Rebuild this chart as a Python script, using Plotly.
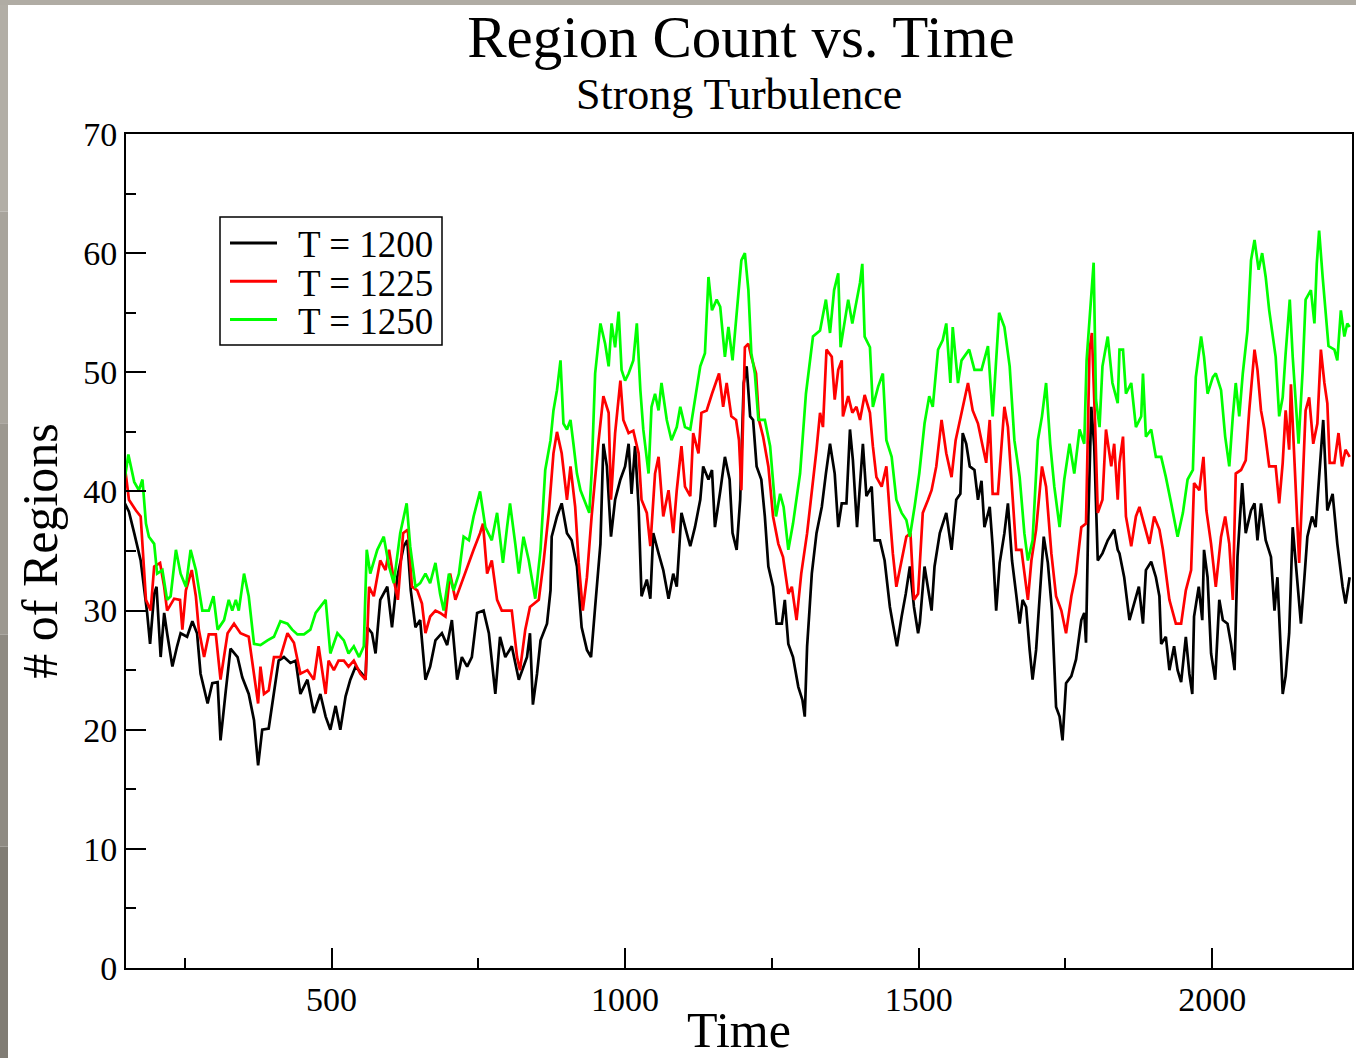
import plotly.graph_objects as go

# ---------------- data ----------------
series_names = ["T = 1200", "T = 1225", "T = 1250"]
series_colors = ["#000000", "#ff0000", "#00ff00"]

time_1200 = [148, 155, 164, 175, 186, 191, 198, 202, 209, 215, 220, 229, 237, 243, 254, 263, 271, 277, 289, 297,
             306, 311, 320, 328, 340, 348, 359, 368, 375, 382, 393, 402, 410, 419, 430, 439, 447, 459, 470,
             481, 490, 498, 507, 515, 524, 532, 541, 552, 558, 561, 569, 575, 583, 595, 603, 612, 623, 629, 635,
             643, 651, 660, 668, 677, 688, 697, 705, 714, 722, 731, 739, 748, 759, 768, 779, 787, 796, 807, 819,
             833, 838, 843, 850, 856, 867, 873, 875, 884, 892, 901, 909, 918, 926, 935, 942, 949, 958, 963, 969,
             976, 983, 992, 1000, 1006, 1011, 1017, 1023, 1028, 1037, 1043, 1048, 1057, 1065, 1074, 1082, 1088,
             1096, 1105, 1111, 1119, 1128, 1133, 1142, 1148, 1153,
             1162, 1170, 1178, 1183, 1190, 1196, 1202, 1207, 1213, 1218, 1224, 1232, 1238, 1244, 1252, 1258, 1267,
             1272, 1278, 1286, 1295, 1302, 1306, 1310, 1314, 1318, 1326, 1335, 1342, 1349, 1357, 1363, 1369, 1377,
             1383, 1388, 1395, 1405, 1411, 1420, 1425, 1434, 1442, 1451, 1456, 1463, 1471, 1478, 1485, 1492, 1499,
             1502, 1510, 1522, 1527, 1536, 1547, 1556, 1564, 1571, 1575, 1581, 1587, 1595, 1601, 1607, 1612, 1621,
             1626, 1632, 1638, 1646, 1652, 1659, 1666, 1672, 1677, 1683, 1689, 1694, 1700, 1706, 1713, 1720, 1727,
             1734, 1740, 1745, 1751, 1760, 1768, 1777, 1782, 1785, 1789, 1794, 1799, 1805, 1813, 1822, 1833, 1839,
             1842, 1850, 1859, 1867, 1875, 1882, 1887, 1896, 1904, 1910, 1913, 1921, 1927, 1935, 1941, 1947, 1955,
             1961, 1966, 1969, 1977, 1983, 1986, 1992, 1998, 2005, 2012, 2018, 2026, 2032, 2038, 2043, 2051, 2057,
             2066, 2072, 2077, 2083, 2091, 2100, 2106, 2111, 2120, 2125, 2131, 2137, 2142, 2151, 2157, 2162, 2170,
             2176, 2182, 2189, 2196, 2205, 2213, 2222, 2227, 2234]
count_1200 = [39.0, 38.3, 36.5, 34.2, 29.8, 27.2, 31.4, 32.0, 26.1, 29.8, 28.1, 25.3, 27.0, 28.1, 27.8, 29.1, 28.1, 24.7, 22.2, 23.9,
              24.0, 19.1, 23.3, 26.8, 26.1, 24.4, 23.0, 20.8, 17.0, 20.0, 20.1, 23.0, 25.8, 26.1, 25.6, 25.8, 23.0, 24.2, 21.4,
              23.0, 21.1, 20.0, 22.0, 20.0, 22.8, 24.2, 25.3, 24.7, 24.2, 28.6, 28.1, 26.4, 30.9, 32.0, 28.6, 32.8, 35.4, 35.9, 31.7,
              28.6, 29.2, 24.2, 25.3, 27.5, 28.1, 27.1, 29.2, 24.2, 26.1, 25.3, 26.1, 29.8, 30.0, 28.1, 23.0, 27.8, 26.1, 27.0, 24.2,
              26.1, 28.1, 22.1, 24.7, 27.5, 28.9, 31.7, 36.2, 37.9, 39.0, 36.5, 35.9, 33.7, 28.6, 26.7, 26.1, 30.3, 35.6, 44.0, 42.1,
              36.2, 39.3, 41.0, 42.1, 44.0, 39.8, 43.8, 38.7, 31.2, 32.6, 31.0, 36.5, 34.8, 33.4, 31.0, 33.1, 32.0,
              38.2, 36.5, 35.4, 37.0, 39.3, 42.1, 41.0, 41.8, 37.0,
              40.0, 42.9, 41.0, 36.5, 35.1, 39.3, 49.1, 50.5, 46.3, 46.0, 42.1, 41.0, 37.9, 33.7, 32.0, 28.9, 28.9,
              30.9, 27.2, 26.1, 23.6, 22.5, 21.1, 27.0, 30.0, 33.1, 36.5, 38.7, 41.5, 44.0, 41.5, 37.0, 39.0, 39.0,
              45.2, 42.6, 37.0, 44.0, 39.6, 40.4, 35.9, 35.9, 34.2, 30.3, 28.9, 27.0, 29.5, 31.4, 33.7, 30.3, 28.1,
              29.0, 33.7, 30.0, 33.7, 36.5, 38.2, 35.1, 39.3, 39.8, 44.9, 44.0, 42.1, 41.8, 39.3, 40.9, 37.0, 38.7,
              35.4, 30.0, 34.0, 36.5, 39.0, 34.2, 31.4, 28.9, 30.9, 30.3, 26.7, 24.2, 26.7, 31.4, 36.2, 34.0, 30.0,
              21.9, 21.1, 19.1, 23.9, 24.5, 25.9, 29.2, 29.8, 27.3, 37.9, 47.1, 43.8, 34.2, 34.8, 35.9, 36.8, 35.1,
              34.8, 32.8, 29.2, 30.6, 32.0, 28.9, 33.4, 34.1, 32.8, 31.2, 27.2, 27.8, 25.0, 27.0, 25.0, 24.0, 27.8,
              24.7, 23.0, 29.5, 32.0, 29.2, 35.1, 32.8, 26.4, 24.2, 30.9, 29.2, 28.9, 27.2, 25.0, 34.5, 40.7, 36.5,
              38.4, 39.0, 35.9, 39.0, 35.9, 34.5, 30.0, 32.8, 23.0, 24.5, 28.1, 37.0, 34.0, 28.9, 32.8, 36.2, 37.9,
              37.0, 41.2, 46.0, 38.4, 39.8, 35.6, 32.0, 30.6, 32.8]

time_1225 = [148, 155, 167, 175, 184, 192, 198, 208, 215, 220, 232, 242, 246, 252, 262, 269, 274, 283, 291, 303,
             311, 323, 334, 345, 359, 368, 375, 379, 385, 393, 402, 413, 425, 436, 447, 459, 470, 478,
             490, 495, 504, 512, 521, 529, 538, 549, 558, 564, 572, 583, 592, 598, 606, 613, 622, 630, 637, 646,
             654, 660, 668, 677, 685, 694, 702, 711, 719, 731, 742, 753, 758, 765, 773, 782, 790, 807, 816, 821,
             830, 838, 853, 861, 870, 878, 884, 892, 901, 907, 915, 921, 928, 935, 943, 955, 963, 972, 976, 983,
             992, 997, 1006, 1014, 1023, 1028, 1037, 1043, 1051, 1057, 1065, 1074, 1082, 1088, 1096, 1102, 1111,
             1116, 1125, 1130, 1139, 1148, 1160,
             1167, 1173, 1181, 1189, 1194, 1198, 1204, 1210, 1215, 1223, 1228, 1235, 1244, 1252, 1261, 1269, 1278,
             1284, 1292, 1300, 1310, 1318, 1326, 1332, 1337, 1343, 1352, 1357, 1363, 1369, 1371, 1380, 1387, 1394,
             1400, 1408, 1417, 1422, 1428, 1437, 1445, 1452, 1456, 1462, 1471, 1479, 1486, 1492, 1499,
             1507, 1516, 1522, 1530, 1539, 1547, 1556, 1563, 1573, 1584, 1592, 1601, 1609, 1615, 1621, 1626, 1635,
             1641, 1646, 1652, 1659, 1666, 1675, 1680, 1686, 1692, 1700, 1710, 1717, 1726, 1734, 1743, 1751, 1760,
             1768, 1777, 1785, 1791, 1795, 1801, 1805, 1813, 1819, 1828, 1833, 1839,
             1842, 1848, 1853, 1862, 1870, 1876, 1884, 1893, 1901, 1910, 1916, 1927, 1938, 1947, 1955, 1964, 1969,
             1978, 1985, 1990, 1998, 2006, 2015, 2022, 2029, 2035, 2040, 2049, 2057, 2063, 2072, 2077, 2083, 2089,
             2097, 2108, 2114, 2120, 2125, 2131, 2134, 2140, 2148, 2154, 2159, 2165, 2172, 2179, 2185, 2191, 2196,
             2200, 2208, 2215, 2221, 2227, 2234]
count_1225 = [42.1, 39.3, 38.4, 37.9, 30.9, 30.0, 33.7, 34.0, 32.0, 30.0, 31.0, 30.9, 28.4, 31.7, 33.4, 31.2, 28.4, 26.1, 28.0, 28.0,
              24.2, 28.1, 28.9, 28.1, 27.8, 24.7, 22.2, 25.3, 23.0, 23.3, 26.1, 26.1, 28.1, 27.3, 24.7, 25.0, 24.2, 27.0,
              23.0, 25.8, 25.0, 25.8, 25.8, 25.3, 25.8, 24.7, 24.2, 32.0, 31.2, 34.2, 33.4, 35.1, 32.6, 30.9, 36.5, 36.8, 32.0, 31.7,
              30.6, 28.1, 29.5, 30.0, 29.8, 29.5, 33.1, 30.9, 32.0, 33.7, 35.1, 36.5, 37.3, 33.1, 34.2, 30.9, 30.0, 30.0, 26.1, 25.0,
              28.4, 30.3, 30.9, 34.0, 38.2, 43.2, 45.0, 43.2, 39.3, 42.1, 38.7, 34.0, 30.0, 32.8, 37.9, 44.3, 48.0, 46.6, 39.3, 44.9,
              49.3, 46.0, 44.9, 45.1, 43.2, 39.3, 38.2, 35.4, 41.5, 42.9, 37.9, 40.1, 36.5, 40.1, 43.8, 40.4, 39.6,
              44.9, 43.2, 46.6, 46.8, 48.2, 49.9,
              47.1, 49.1, 46.3, 46.0, 44.3, 40.1, 52.1, 52.4, 51.3, 49.9, 46.0, 44.6, 42.1, 37.9, 35.6, 34.5, 31.4,
              32.0, 29.2, 33.1, 36.5, 39.8, 43.5, 46.6, 45.4, 51.9, 51.3, 47.7, 50.2, 51.0, 46.3, 48.0, 46.6, 47.1,
              46.0, 48.1, 46.6, 43.8, 41.2, 40.4, 42.1, 37.3, 34.8, 32.0, 34.2, 36.2, 36.5, 30.9, 31.4,
              38.2, 39.3, 40.1, 42.1, 46.0, 43.2, 41.2, 44.3, 46.6, 49.1, 46.8, 45.7, 43.8, 42.4, 46.0, 39.8, 39.8,
              44.0, 47.1, 45.4, 40.4, 35.1, 35.1, 33.1, 30.9, 34.2, 36.8, 42.1, 40.4, 34.8, 31.2, 30.0, 28.1, 31.2,
              33.1, 37.0, 37.3, 51.9, 53.3, 44.9, 38.2, 39.3, 45.2, 42.1, 44.0, 39.3,
              42.4, 44.6, 37.9, 35.4, 37.9, 38.7, 37.3, 35.6, 37.9, 36.8, 35.1, 30.9, 28.9, 28.9, 31.7, 33.4, 40.7,
              40.1, 42.9, 38.4, 35.6, 32.0, 36.2, 37.9, 35.6, 30.9, 41.5, 41.8, 42.6, 46.8, 51.9, 50.2, 46.8, 45.2,
              42.1, 42.1, 39.0, 42.4, 46.8, 43.5, 49.0, 42.4, 34.0, 40.7, 46.8, 47.9, 44.0, 45.7, 51.9, 49.1, 47.4,
              42.4, 42.4, 44.9, 42.1, 43.5, 42.9]

time_1250 = [148, 154, 164, 172, 178, 184, 189, 198, 203, 212, 220, 226, 235, 243, 252, 260, 269, 280, 291, 299,
             306, 317, 325, 331, 337, 342, 351, 359, 368, 379, 391, 402, 413, 425, 433, 442, 453, 464, 473,
             481, 490, 498, 510, 521, 529, 538, 547, 555, 560, 566, 578, 589, 598, 606, 617, 628, 634, 643, 651,
             660, 668, 677, 685, 691, 700, 708, 717, 725, 734, 742, 753, 762, 773, 782, 792, 799, 804, 813, 819,
             827, 836, 847, 856, 864, 873, 878, 884, 890, 895, 901, 907, 912, 918, 924, 930, 939, 943, 949, 958,
             966, 972, 977, 983, 989, 994, 1000, 1006, 1014, 1020, 1026, 1031, 1040, 1045, 1051, 1057, 1062, 1071,
             1079, 1088, 1094, 1102, 1111, 1119, 1128, 1136, 1142, 1148, 1156,
             1162, 1170, 1176, 1183, 1193, 1198, 1204, 1210, 1215, 1221, 1227, 1238, 1247, 1252, 1257, 1264, 1270,
             1278, 1286, 1298, 1308, 1320, 1332, 1342, 1349, 1356, 1363, 1367, 1374, 1380, 1387, 1394, 1400, 1404,
             1408, 1417, 1422, 1431, 1439, 1445, 1454, 1462, 1471, 1479, 1485, 1493, 1501,
             1510, 1518, 1524, 1533, 1541, 1547, 1554, 1558, 1567, 1573, 1586, 1595, 1607, 1618, 1626, 1637, 1646,
             1655, 1663, 1672, 1680, 1686, 1694, 1703, 1710, 1717, 1724, 1731, 1740, 1748, 1757, 1765, 1774, 1782,
             1786, 1794, 1798, 1802, 1808, 1813, 1822, 1830, 1839,
             1842, 1848, 1853, 1862, 1870, 1879, 1882, 1887, 1896, 1904, 1913, 1921, 1930, 1941, 1950, 1958, 1967,
             1972, 1981, 1986, 1992, 2001, 2006, 2015, 2022, 2029, 2035, 2040, 2046, 2052, 2060, 2066, 2072, 2079,
             2085, 2091, 2097, 2103, 2108, 2114, 2120, 2125, 2132, 2137, 2142, 2147, 2154, 2159, 2168, 2174, 2178,
             2182, 2188, 2193, 2198, 2208, 2213, 2219, 2225, 2230, 2234]
count_1250 = [41.1, 43.1, 40.8, 40.1, 41.0, 37.3, 36.2, 35.6, 33.1, 33.4, 30.9, 31.2, 35.1, 33.1, 32.0, 35.1, 33.4, 30.0, 30.0, 31.2,
              28.4, 29.2, 30.9, 30.0, 30.9, 30.0, 33.1, 31.2, 27.2, 27.1, 27.5, 27.8, 29.1, 28.9, 28.4, 28.0, 28.0, 28.4, 29.8,
              30.3, 30.9, 26.4, 28.1, 27.5, 26.4, 27.0, 26.1, 27.0, 35.1, 33.1, 35.1, 36.2, 33.7, 32.3, 36.5, 39.0, 35.4, 32.0, 32.3,
              33.1, 32.3, 34.0, 31.4, 30.0, 33.1, 31.7, 33.1, 36.2, 35.9, 37.9, 40.0, 37.0, 35.9, 38.2, 34.0, 37.0, 39.0, 35.6, 33.1,
              36.2, 34.2, 31.0, 35.1, 41.8, 44.3, 46.8, 48.5, 51.0, 45.7, 45.2, 46.0, 44.0, 41.5, 40.1, 39.3, 38.2, 41.5, 49.9, 54.1,
              52.4, 50.5, 54.1, 52.1, 55.1, 50.2, 49.3, 49.9, 51.0, 54.1, 48.5, 45.2, 41.5, 47.1, 48.2, 46.8, 49.1, 46.0,
              44.3, 45.4, 47.1, 45.4, 45.2, 47.7, 50.5, 51.6, 58.0, 55.2, 56.1,
              55.5, 51.3, 53.8, 51.0, 56.6, 59.4, 60.0, 56.9, 51.6, 49.9, 46.0, 46.0, 43.8, 41.0, 37.9, 39.8, 38.7,
              35.1, 37.3, 41.5, 48.2, 53.0, 53.5, 56.1, 53.3, 56.9, 58.3, 52.1, 54.1, 56.1, 54.1, 56.1, 57.5, 59.1,
              53.0, 52.1, 47.1, 48.8, 49.9, 44.3, 42.9, 39.3, 38.2, 37.6, 36.2, 38.7, 41.5,
              45.7, 48.0, 47.1, 51.9, 52.7, 54.1, 49.1, 53.8, 49.1, 51.0, 51.9, 50.2, 50.2, 52.2, 46.3, 55.0, 53.8,
              50.5, 44.3, 41.2, 36.5, 34.2, 35.9, 44.3, 46.3, 49.1, 44.0, 40.4, 37.0, 41.0, 44.0, 41.5, 45.2, 44.0,
              51.0, 57.0, 59.2, 47.7, 45.4, 50.5, 53.0, 49.1, 47.4,
              51.9, 51.9, 48.2, 49.1, 45.4, 46.3, 49.9, 44.6, 45.2, 42.9, 42.9, 41.2, 39.0, 36.2, 38.2, 41.0, 41.8,
              49.6, 53.0, 51.3, 48.2, 49.6, 49.9, 48.5, 44.6, 42.1, 46.3, 49.1, 46.3, 49.9, 53.5, 59.4, 61.1, 58.6,
              60.0, 58.0, 55.2, 53.0, 51.3, 46.3, 47.9, 51.6, 56.1, 51.3, 47.4, 44.0, 50.2, 56.1, 56.9, 54.1, 59.1,
              61.9, 58.0, 54.7, 52.2, 51.9, 51.0, 55.2, 53.0, 54.1, 53.8]

x_range = [150, 2238]
y_range = [0, 70]

# ---------------- figure ----------------
W, H = 1356, 1058
ML, MR, MT, MB = 126, 4, 134, 90
PW, PH = W - ML - MR, H - MT - MB


def px_x(px):
    return (px - ML) / PW


def px_y(py):
    return (H - MB - py) / PH


SERIF = "Liberation Serif, Times New Roman, serif"

fig = go.Figure()
all_times = [time_1200, time_1225, time_1250]
all_counts = [count_1200, count_1225, count_1250]
for name, color, t, c in zip(series_names, series_colors, all_times, all_counts):
    fig.add_trace(go.Scatter(x=t, y=c, mode="lines", name=name,
                             line=dict(color=color, width=2.7), showlegend=False))

shapes = []
annotations = []
# grey window frame (left strip with slight gradient, top strip)
left_cols = ["#b2aea6", "#a8a49c", "#9c9890", "#8e8a82", "#807c74"]
n = len(left_cols)
for i, col in enumerate(left_cols):
    shapes.append(dict(type="rect", xref="paper", yref="paper", x0=px_x(0), x1=px_x(8),
                       y0=px_y(H * (i + 1) / n), y1=px_y(H * i / n), fillcolor=col,
                       line=dict(width=0), layer="above"))
shapes.append(dict(type="rect", xref="paper", yref="paper", x0=px_x(0), x1=px_x(W),
                   y0=px_y(5), y1=px_y(0), fillcolor="#b0aca4", line=dict(width=0), layer="above"))

# legend (box, line samples, labels)
shapes.append(dict(type="rect", xref="paper", yref="paper", x0=px_x(220), x1=px_x(442),
                   y0=px_y(345), y1=px_y(217), fillcolor="white", line=dict(color="black", width=1.5),
                   layer="above"))
for i, (name, color) in enumerate(zip(series_names, series_colors)):
    ly = 243 + 38.3 * i
    shapes.append(dict(type="line", xref="paper", yref="paper", x0=px_x(230), x1=px_x(277),
                       y0=px_y(ly), y1=px_y(ly), line=dict(color=color, width=3), layer="above"))
    annotations.append(dict(text=name, xref="paper", yref="paper", x=px_x(296), y=px_y(ly + 2),
                            xanchor="left", yanchor="middle", showarrow=False,
                            font=dict(family=SERIF, size=37, color="black")))

# subtitle
annotations.append(dict(text="Strong Turbulence", xref="paper", yref="paper", x=px_x(739), y=px_y(94),
                        xanchor="center", yanchor="middle", showarrow=False,
                        font=dict(family=SERIF, size=44, color="black")))

fig.update_layout(
    width=W, height=H,
    margin=dict(l=ML, r=MR, t=MT, b=MB, autoexpand=False),
    paper_bgcolor="white", plot_bgcolor="white",
    title=dict(text="Region Count vs. Time", x=741 / W, xanchor="center",
               y=1 - 36 / H, yanchor="middle", yref="container",
               font=dict(family=SERIF, size=59, color="black")),
    shapes=shapes, annotations=annotations,
    font=dict(family=SERIF, color="black"),
)
fig.update_xaxes(
    range=x_range, showgrid=False, zeroline=False,
    showline=True, linecolor="black", linewidth=2, mirror=True,
    ticks="inside", ticklen=20, tickwidth=1.5, tickcolor="black",
    tick0=0, dtick=500,
    minor=dict(ticks="inside", ticklen=10, tickwidth=1.5, tickcolor="black", dtick=250, showgrid=False),
    tickfont=dict(family=SERIF, size=34, color="black"),
    title=dict(text="Time", font=dict(family=SERIF, size=50, color="black"), standoff=1),
    automargin=False,
)
fig.update_yaxes(
    range=y_range, showgrid=False, zeroline=False,
    showline=True, linecolor="black", linewidth=2, mirror=True,
    ticks="inside", ticklen=20, tickwidth=1.5, tickcolor="black",
    tick0=0, dtick=10,
    minor=dict(ticks="inside", ticklen=10, tickwidth=1.5, tickcolor="black", dtick=5, showgrid=False),
    tickfont=dict(family=SERIF, size=34, color="black"),
    title=dict(text="# of Regions", font=dict(family=SERIF, size=50, color="black"), standoff=10),
    automargin=False,
)

# the page's default 8px body margin would shift the figure; remove it
fig.write_html("out.html",
               config={"displayModeBar": False},
               post_script="document.body.style.margin='0px';document.body.style.overflow='hidden';")
